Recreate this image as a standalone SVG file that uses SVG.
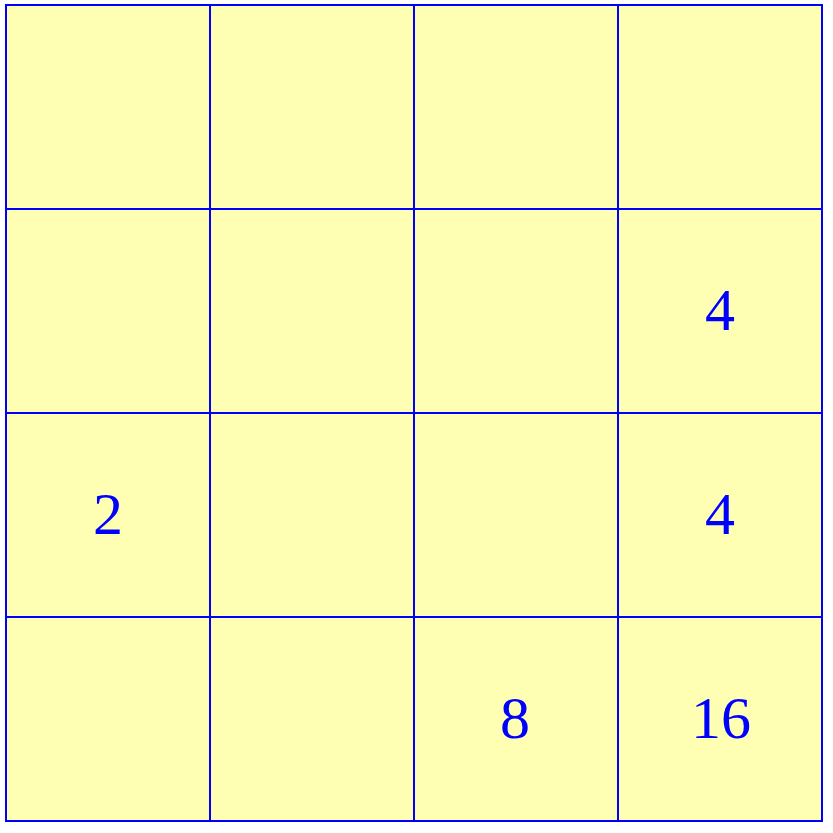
<svg xmlns="http://www.w3.org/2000/svg" width="833" height="833" viewBox="0 0 833 833">
  <style>
    .cell { fill: #ffffb3; stroke: #0000ff; stroke-width: 2; }
    .num { font-family: "Liberation Serif", "Times New Roman", serif; font-size: 60px; fill: #0000ff; text-anchor: middle; }
  </style>
  <rect width="833" height="833" fill="#ffffff"/>
  <g id="grid">
    <g id="r0c0"><rect class="cell" x="6" y="5" width="204" height="204"/></g>
    <g id="r0c1"><rect class="cell" x="210" y="5" width="204" height="204"/></g>
    <g id="r0c2"><rect class="cell" x="414" y="5" width="204" height="204"/></g>
    <g id="r0c3"><rect class="cell" x="618" y="5" width="204" height="204"/></g>
    <g id="r1c0"><rect class="cell" x="6" y="209" width="204" height="204"/></g>
    <g id="r1c1"><rect class="cell" x="210" y="209" width="204" height="204"/></g>
    <g id="r1c2"><rect class="cell" x="414" y="209" width="204" height="204"/></g>
    <g id="r1c3"><rect class="cell" x="618" y="209" width="204" height="204"/><text class="num" x="720" y="330">4</text></g>
    <g id="r2c0"><rect class="cell" x="6" y="413" width="204" height="204"/><text class="num" x="108" y="534">2</text></g>
    <g id="r2c1"><rect class="cell" x="210" y="413" width="204" height="204"/></g>
    <g id="r2c2"><rect class="cell" x="414" y="413" width="204" height="204"/></g>
    <g id="r2c3"><rect class="cell" x="618" y="413" width="204" height="204"/><text class="num" x="720" y="534">4</text></g>
    <g id="r3c0"><rect class="cell" x="6" y="617" width="204" height="204"/></g>
    <g id="r3c1"><rect class="cell" x="210" y="617" width="204" height="204"/></g>
    <g id="r3c2"><rect class="cell" x="414" y="617" width="204" height="204"/><text class="num" x="515" y="738">8</text></g>
    <g id="r3c3"><rect class="cell" x="618" y="617" width="204" height="204"/><text class="num" x="721" y="738">16</text></g>
  </g>
</svg>
